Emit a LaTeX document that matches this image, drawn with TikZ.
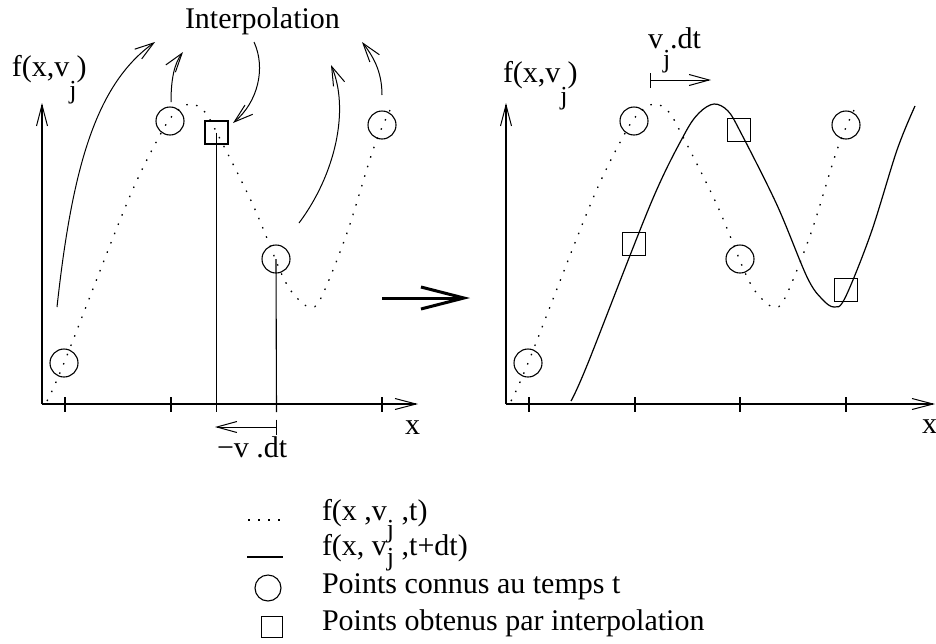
\documentclass[tikz,border=0pt]{standalone}
\usepackage{fontspec}
\setmainfont{Liberation Serif}
\usetikzlibrary{arrows.meta}
\newcommand{\lowj}[1]{\raisebox{-#1}{\fontsize{26}{26}\selectfont j}}
\begin{document}
\begin{tikzpicture}[x=1pt,y=-1pt,
  every node/.style={inner sep=0pt, outer sep=0pt},
  lbl/.style={font=\fontsize{30}{36}\selectfont, anchor=base west},
  ptc/.style={circle, draw, line width=1.1pt, minimum size=28pt},
  pts/.style={rectangle, draw, line width=1.1pt, minimum size=23pt},
  axisline/.style={line width=1.3pt, -{Straight Barb[length=21pt,width=11pt,line width=1pt]}},
  tickmark/.style={line width=1.1pt},
  dotc/.style={line width=1.3pt, dash pattern=on 1.5pt off 8.5pt},
  solc/.style={line width=1.2pt},
  curv/.style={line width=1pt, -{Straight Barb[length=19pt,width=12pt]}},
  ]
\useasboundingbox (0,0) rectangle (936,643);

% ---------- left panel ----------
\coordinate (O1) at (42,404);
\coordinate (Y1) at (42,103);
\coordinate (X1) at (418,404);
\draw[axisline] (O1) -- (Y1);
\draw[axisline] (O1) -- (X1);
\foreach \x in {65,171,382} \draw[tickmark] (\x,397) -- (\x,412);

\draw[dotc] plot[smooth, tension=0.55] coordinates {(47,401) (64,363) (127,203) (160,135) (175,113) (190,104) (204,111) (217,133) (253,205) (283,277) (298,299) (310,307) (321,298) (347,233) (373,150) (390,110)};

\node[ptc] (a1) at (64,363) {};
\node[ptc] (a2) at (170,121) {};
\node[ptc] (a3) at (276,259) {};
\node[ptc] (a4) at (382,125) {};
\node[pts] (sqa) at (216.5,132.5) {};

\coordinate (sqfoot) at (216.5,412);
\coordinate (a3foot) at (276.5,412);
\draw[tickmark] (sqa.center) -- (sqfoot);
\draw[tickmark] (a3.center) -- (a3foot);

\coordinate (mvs) at (277,427);
\coordinate (mve) at (215,427);
\draw[line width=1pt, {Bar[width=15pt]}-{Straight Barb[length=20pt,width=11pt]}] (mvs) -- (mve);
\node[lbl] (mvl) at (217,457) {−v .dt};

\node[lbl] (fl) at (12,76) {f(x,v\lowj{22pt})};
\node[lbl] (xl) at (405,434) {x};

\node[lbl] (interp) at (185,28) {Interpolation};
\coordinate (A1s) at (57,307);  \coordinate (A1e) at (155,42);
\coordinate (A2s) at (171,102); \coordinate (A2e) at (183,52);
\coordinate (A3s) at (254,42);  \coordinate (A3e) at (233,123);
\coordinate (A4s) at (299,223); \coordinate (A4e) at (331,65);
\coordinate (A5s) at (382,95);  \coordinate (A5e) at (362,42);
\draw[curv] (A1s) .. controls (72,170) and (95,85) .. (A1e);
\draw[curv] (A2s) .. controls (171,80) and (174,64) .. (A2e);
\draw[curv] (A3s) .. controls (266,68) and (258,102) .. (A3e);
\draw[curv] (A4s) .. controls (335,175) and (350,110) .. (A4e);
\draw[curv] (A5s) .. controls (382,70) and (372,55) .. (A5e);

% ---------- big arrow ----------
\coordinate (bigs) at (382,298);
\coordinate (bige) at (470,298);
\draw[line width=3pt, -{Straight Barb[length=43pt,width=22pt,line width=3pt]}] (bigs) -- (bige);

% ---------- right panel ----------
\coordinate (O2) at (506,404);
\coordinate (Y2) at (506,103);
\coordinate (X2) at (935,404);
\draw[axisline] (O2) -- (Y2);
\draw[axisline] (O2) -- (X2);
\foreach \x in {529,635,740,846} \draw[tickmark] (\x,397) -- (\x,412);

\begin{scope}[xshift=464pt]
\draw[dotc] plot[smooth, tension=0.55] coordinates {(47,401) (64,363) (127,203) (160,135) (175,113) (190,104) (204,111) (217,133) (253,205) (283,277) (298,299) (310,307) (321,298) (347,233) (373,150) (390,110)};
\end{scope}
\begin{scope}[xshift=524pt]
\draw[solc] plot[smooth, tension=0.55] coordinates {(47,401) (64,363) (127,203) (160,135) (175,113) (190,104) (204,111) (217,133) (253,205) (283,277) (298,299) (310,307) (321,298) (347,233) (373,150) (391,106)};
\end{scope}

\node[ptc] (b1) at (528,363) {};
\node[ptc] (b2) at (634,121) {};
\node[ptc] (b3) at (740,259) {};
\node[ptc] (b4) at (846,125) {};
\node[pts] (sqb1) at (634,244) {};
\node[pts] (sqb2) at (739,130) {};
\node[pts] (sqb3) at (846,290) {};

\coordinate (vs) at (650,80);
\coordinate (ve) at (711,80);
\draw[line width=1pt, {Bar[width=15pt]}-{Straight Barb[length=20pt,width=11pt]}] (vs) -- (ve);
\node[lbl] (vl) at (648,48) {v\lowj{19pt}.dt};

\node[lbl] (fr) at (503,82) {f(x,v\lowj{22pt})};
\node[lbl] (xr) at (922,433) {x};

% ---------- legend ----------
\coordinate (l1a) at (248,520); \coordinate (l1b) at (284,520);
\draw[dotc] (l1a) -- (l1b);
\coordinate (l2a) at (247,557); \coordinate (l2b) at (283,557);
\draw[solc] (l2a) -- (l2b);
\node[circle, draw, line width=1.1pt, minimum size=26pt] (lc) at (268,588) {};
\node[rectangle, draw, line width=1.1pt, minimum size=21pt] (ls) at (272,627) {};

\node[lbl] (t1) at (322,520) {f(x ,v\lowj{17pt} ,t)};
\node[lbl] (t2) at (322,555) {f(x, v\lowj{10pt} ,t+dt)};
\node[lbl] (t3) at (322,593) {Points connus au temps t};
\node[lbl] (t4) at (322,630) {Points obtenus par interpolation};
\end{tikzpicture}
\end{document}
